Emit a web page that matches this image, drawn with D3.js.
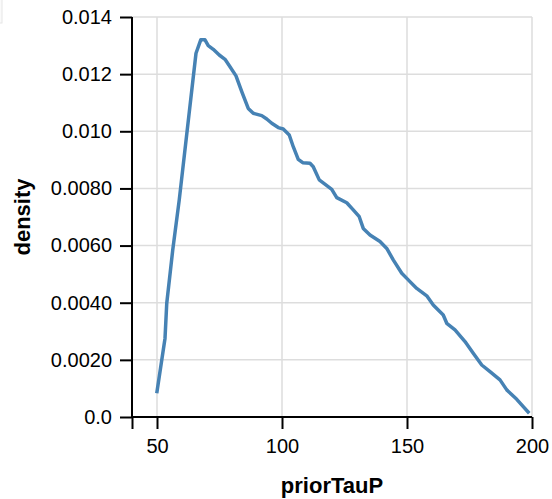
<!DOCTYPE html>
<html>
<head>
<meta charset="utf-8">
<script src="https://cdn.jsdelivr.net/npm/d3@7"></script>
<style>
  html, body { margin: 0; padding: 0; background: #fff; }
  svg { display: block; font-family: "Liberation Sans", Arial, Helvetica, sans-serif; }
</style>
</head>
<body>
<svg id="chart" width="552" height="499"></svg>
<script>
// Density estimate of priorTauP
const priorTauP = [49.9, 53.2, 53.9, 56.3, 58.9, 65.6, 67.5, 69.2, 70.5, 72.5, 74.9, 77.2, 79.2, 81.6, 83.9, 86.5, 88.5, 91.9, 93.9, 95.9, 98.5, 100.5, 102.9, 104.5, 106.5, 108.3, 111.2, 112.5, 114.9, 119.9, 121.9, 125.9, 128.5, 130.9, 132.5, 135.2, 139.2, 141.9, 144.5, 147.9, 150.5, 153.9, 157.9, 160.5, 164.5, 165.9, 169.2, 173.2, 176.5, 179.9, 183.2, 187.2, 189.9, 193.9, 196.5, 198.9];
const density = [0.00083, 0.00275, 0.00398, 0.00585, 0.0076, 0.01273, 0.0132, 0.0132, 0.0130, 0.01287, 0.01267, 0.01252, 0.01226, 0.01194, 0.01139, 0.0108, 0.01063, 0.01055, 0.01043, 0.01028, 0.01013, 0.01008, 0.00987, 0.00946, 0.00902, 0.0089, 0.00888, 0.00876, 0.0083, 0.00797, 0.00768, 0.0075, 0.00725, 0.00701, 0.0066, 0.00637, 0.00614, 0.0059, 0.0055, 0.00503, 0.0048, 0.0045, 0.00424, 0.00392, 0.00357, 0.00328, 0.00305, 0.00264, 0.00223, 0.00182, 0.00159, 0.0013, 0.00095, 0.00062, 0.00036, 0.00013];

const xTicks = [40, 50, 100, 150, 200];
const xTickLabels = ["", "50", "100", "150", "200"];
const yTicks = [0, 0.002, 0.004, 0.006, 0.008, 0.010, 0.012, 0.014];
const yTickLabels = ["0.0", "0.0020", "0.0040", "0.0060", "0.0080", "0.010", "0.012", "0.014"];

const margin = { left: 132, top: 17 };
const width = 400, height = 400;

const svg = d3.select("#chart");

// small panel corner in the top-left
svg.append("rect")
  .attr("x", -10).attr("y", -10).attr("width", 12).attr("height", 33)
  .attr("fill", "#fafafa").attr("stroke", "#e6e6e6").attr("stroke-width", 1);

const g = svg.append("g").attr("transform", `translate(${margin.left},${margin.top})`);

const x = d3.scaleLinear().domain([40, 200]).range([0, width]);
const y = d3.scaleLinear().domain([0, 0.014]).range([height, 0]);

// grid
g.append("g")
  .selectAll("line.vg")
  .data(xTicks.slice(1))
  .join("line")
  .attr("x1", d => x(d)).attr("x2", d => x(d))
  .attr("y1", 0).attr("y2", height)
  .attr("stroke", "#dddddd").attr("stroke-width", 1.5);

g.append("g")
  .selectAll("line.hg")
  .data(yTicks)
  .join("line")
  .attr("x1", 0).attr("x2", width)
  .attr("y1", d => y(d)).attr("y2", d => y(d))
  .attr("stroke", "#dddddd").attr("stroke-width", 1.5);

// density line
const pts = priorTauP.map((v, i) => [v, density[i]]);
g.append("path")
  .datum(pts)
  .attr("fill", "none")
  .attr("stroke", "#4682b4")
  .attr("stroke-width", 3.5)
  .attr("stroke-linejoin", "round")
  .attr("d", d3.line().x(d => x(d[0])).y(d => y(d[1])));

// x axis
const xAxis = g.append("g")
  .attr("transform", `translate(0,${height})`)
  .call(d3.axisBottom(x)
    .tickValues(xTicks)
    .tickFormat((d, i) => xTickLabels[i])
    .tickSize(12)
    .tickPadding(10));
xAxis.select(".domain").attr("stroke", "#000").attr("stroke-width", 2).attr("d", `M0,0H${width}`);
xAxis.selectAll(".tick line").attr("stroke", "#000").attr("stroke-width", 2);
xAxis.selectAll(".tick text").attr("font-size", 20).attr("fill", "#000");

// y axis
const yAxis = g.append("g")
  .call(d3.axisLeft(y)
    .tickValues(yTicks)
    .tickFormat((d, i) => yTickLabels[i])
    .tickSize(12)
    .tickPadding(8));
yAxis.select(".domain").attr("stroke", "#000").attr("stroke-width", 2).attr("d", `M0,0V${height}`);
yAxis.selectAll(".tick line").attr("stroke", "#000").attr("stroke-width", 2);
yAxis.selectAll(".tick text").attr("font-size", 20).attr("fill", "#000");

// titles
svg.append("text")
  .attr("x", margin.left + width / 2)
  .attr("y", 493)
  .attr("text-anchor", "middle")
  .attr("font-size", 22)
  .attr("font-weight", "bold")
  .text("priorTauP");

svg.append("text")
  .attr("transform", `translate(30,${margin.top + height / 2}) rotate(-90)`)
  .attr("text-anchor", "middle")
  .attr("font-size", 22)
  .attr("font-weight", "bold")
  .text("density");
</script>
</body>
</html>
